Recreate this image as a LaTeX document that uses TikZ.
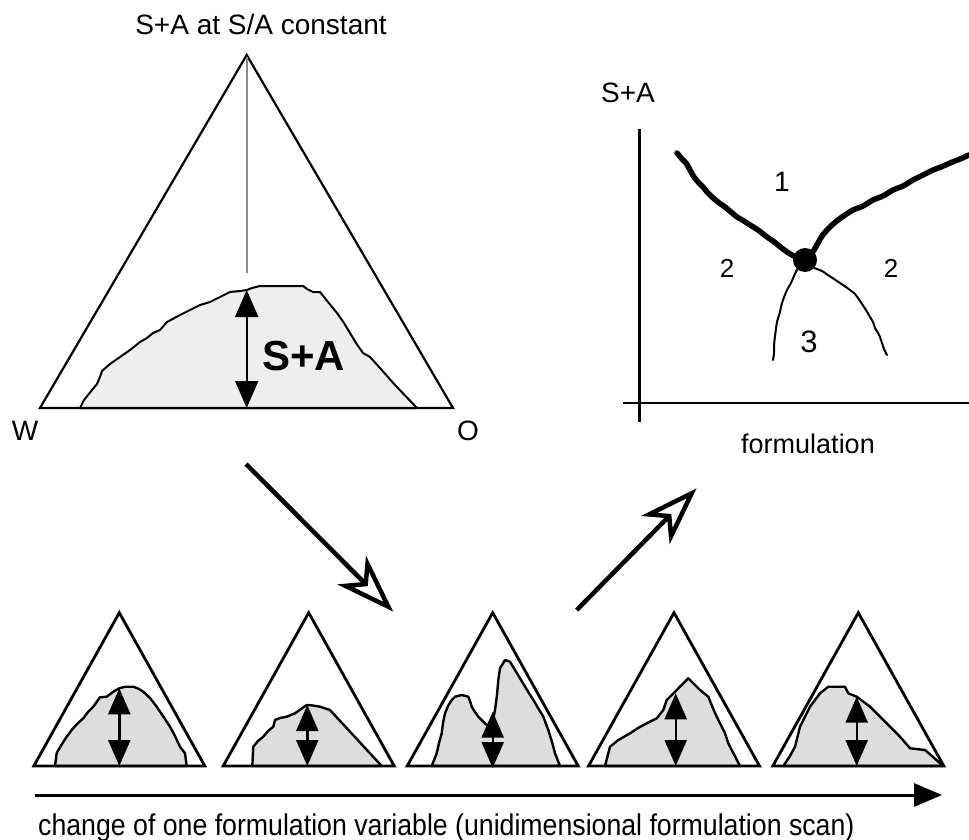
\documentclass[tikz,border=0pt]{standalone}
\usepackage{fontspec}
\setmainfont{Liberation Sans}
\usetikzlibrary{arrows.meta}
\definecolor{lobeA}{HTML}{EEEEEE}
\definecolor{lobeB}{HTML}{DDDDDD}
\definecolor{guide}{HTML}{8C8C8C}
\newcommand\myfs[1]{\fontsize{#1}{#1}\selectfont}
\begin{document}
\begin{tikzpicture}[x=1pt,y=-1pt,
  tri/.style={draw=black, line width=2.2pt, line join=miter},
  smalltri/.style={draw=black, line width=2.8pt, line join=miter},
  lobebig/.style={fill=lobeA, draw=black, line width=2pt, line join=round},
  lobesmall/.style={fill=lobeB, draw=black, line width=2.4pt, line join=round},
  dblbig/.style={line width=2pt, {Triangle[length=27pt,width=23pt]}-{Triangle[length=27pt,width=23pt]}},
  dblsmall/.style={line width=2.4pt, {Triangle[length=26pt,width=22pt]}-{Triangle[length=26pt,width=22pt]}},
  bigarrow/.style={line width=4.5pt},
  openhead/.style={fill=white, draw=black, line width=4.5pt, line join=miter},
  txt/.style={inner sep=0pt, anchor=base},
  thickcurve/.style={line width=5.5pt, line cap=round, line join=round},
  thincurve/.style={line width=2pt, line cap=round, line join=round},
  axisline/.style={line width=2.5pt}
]
\useasboundingbox (0,0) rectangle (969,840);

% ---------- big ternary diagram ----------
\path[lobebig] (80,408) -- (84,400) -- (92,390) -- (97,384) -- (100,377) -- (102,371) -- (110,364) -- (120,357) -- (130,350) -- (140,342) -- (147,338) -- (153,333) -- (160,330) -- (167,322) -- (180,315) -- (190,310) -- (200,305) -- (210,302) -- (220,297) -- (230,292) -- (240,291) -- (247,290) -- (252,288) -- (260,286) -- (303,286) -- (307,289) -- (313,292) -- (320,292) -- (328,302) -- (337,313) -- (344,323) -- (350,333) -- (356,343) -- (363,353) -- (370,357) -- (380,368) -- (395,385) -- (417,408) -- cycle;
\draw[tri] (40,408) -- (246.7,55) -- (453,408) -- cycle;
\draw[guide, line width=1.8pt] (246.7,57) -- (246.7,273);
\draw[dblbig] (246.7,290) -- (246.7,408);
\node[txt] (title) at (261,35) {\myfs{28}S+A at S/A constant};
\node[txt] (W) at (25,440) {\myfs{28}W};
\node[txt] (O) at (468,440) {\myfs{28}O};
\node[txt, anchor=base west] (sa) at (262,370) {\myfs{42}\bfseries S+A};

% ---------- phase map ----------
\draw[axisline] (639.3,129) -- (639.3,422);
\draw[axisline] (623,403) -- (969,403);
\node[txt, anchor=base west] (ylab) at (601,103) {\myfs{28}S+A};
\node[txt] (xlab) at (808,453) {\myfs{27}formulation};
\draw[thickcurve] plot[smooth, tension=0.5] coordinates {(677,153) (682,159) (686,163) (690,170) (694,177) (699,183) (704,188) (707,192) (712,197) (718,202) (725,207) (731,212) (737,217) (744,221) (750,225) (758,230) (767,237) (773,241) (778,245) (783,249) (787,252) (794,256) (800,258) (805,260)};
\draw[thickcurve] plot[smooth, tension=0.5] coordinates {(805,260) (810,255) (814,250) (818,243) (822,236) (827,230) (832,225) (838,220) (845,215) (853,210) (863,206) (873,200) (883,196) (893,190) (903,186) (913,180) (923,175) (933,170) (941,167) (950,163) (960,159) (969,155)};
\draw[thincurve] plot[smooth, tension=0.5] coordinates {(798,268) (794,276) (791,283) (787,290) (783,300) (781,307) (780,312) (777,322) (776,329) (775,336) (774,346) (774,353) (773,360)};
\draw[thincurve] plot[smooth, tension=0.5] coordinates {(814,268) (822,271) (828,275) (834,279) (840,283) (846,287) (850,290) (855,294) (858,298) (862,304) (866,310) (870,317) (873,322) (875,328) (878,333) (880,337) (882,343) (884,349) (887,355)};
\fill (805,260) circle[radius=12pt];
\node[txt] (r1) at (782,191.7) {\myfs{28}1};
\node[txt] (r2a) at (727,277) {\myfs{26}2};
\node[txt] (r2b) at (891,277) {\myfs{26}2};
\node[txt] (r3) at (809,352.7) {\myfs{31}3};

% ---------- bottom scan ----------
\path[lobesmall] (55,766) -- (56.7,753) -- (62,744) -- (66.7,736.7) -- (71.7,730) -- (77,724) -- (83.3,718.3) -- (88,712) -- (93.3,706.7) -- (100,697.3) -- (106.7,696.7) -- (113.3,691.7) -- (119.3,688.3) -- (125,686.7) -- (133.3,686.7) -- (138,688.5) -- (143.3,691.7) -- (150,698) -- (156.7,706.7) -- (163,716) -- (170,726.7) -- (175,736) -- (180,746.7) -- (185,753.3) -- (186.7,766) -- cycle;
\path[lobesmall] (252.3,766) -- (253.3,746.7) -- (258,741) -- (263.3,736.7) -- (268,731) -- (273.3,726.7) -- (275,720) -- (280,718) -- (286.7,716.7) -- (295,713.3) -- (301,709) -- (306.7,705) -- (313,705.5) -- (320,706.7) -- (330,710) -- (381.7,766) -- cycle;
\path[lobesmall] (431.7,766) -- (436.7,753.3) -- (439,743) -- (441.7,733.3) -- (443,723) -- (445,713.3) -- (448,706) -- (451.7,700) -- (455,696.7) -- (461.7,695) -- (468.3,696.7) -- (470,701) -- (471.7,706.7) -- (475,712) -- (478.3,716.7) -- (486.7,725) -- (491.7,726.7) -- (495,710) -- (497,695) -- (498.3,680) -- (500,668.3) -- (505,660) -- (510,661.7) -- (515,670) -- (524,685) -- (533.3,700) -- (543.3,716.7) -- (548.3,730) -- (552,742) -- (555,753.3) -- (560,766) -- cycle;
\path[lobesmall] (605,766) -- (610,746.7) -- (618.3,740) -- (630,733.3) -- (638,728) -- (646.7,723.3) -- (656.7,718.3) -- (663.3,710) -- (666.7,700) -- (676.7,690) -- (688.3,678.3) -- (694,684) -- (700,690) -- (708.3,696.7) -- (712,706) -- (716.7,716.7) -- (725,733.3) -- (728.3,743.3) -- (740,766) -- cycle;
\path[lobesmall] (783.3,766) -- (790,756) -- (795,746.7) -- (800,726.7) -- (810,706.7) -- (820,693.3) -- (828.3,686.7) -- (845,686.7) -- (848.3,693.3) -- (856.7,696.7) -- (870,706.7) -- (900,736.7) -- (910,748.3) -- (925,750) -- (943.3,766) -- cycle;
\foreach \ax in {119.3,308.7,492.7,674,858.3}{
  \draw[smalltri] (\ax-85.5,766) -- (\ax,612.7) -- (\ax+85.5,766) -- cycle;
}
\draw[dblsmall] (119.3,688.3) -- (119.3,766);
\draw[dblsmall] (307.3,705) -- (307.3,766);
\draw[dblsmall] (492.7,711.7) -- (492.7,768);
\draw[dblsmall] (675.7,693.3) -- (675.7,766);
\draw[dblsmall] (856.7,696.7) -- (856.7,766);

% ---------- open arrows ----------
\coordinate (a1s) at (246,464);
\coordinate (a1n) at (365.7,584.1);
\draw[bigarrow] (a1s) -- (a1n);
\draw[openhead] (388.3,606.7) -- (345.5,585.9) -- (a1n) -- (367.5,563.9) -- cycle;
\coordinate (a2s) at (576.7,610);
\coordinate (a2n) at (669.2,516.1);
\draw[bigarrow] (a2s) -- (a2n);
\draw[openhead] (691.7,493.3) -- (671.1,536.2) -- (a2n) -- (649.1,514.4) -- cycle;

% ---------- scan axis ----------
\coordinate (scanA) at (35,795);
\coordinate (scanB) at (942,795);
\draw[line width=3pt, -{Triangle[length=28pt,width=23pt]}] (scanA) -- (scanB);
\node[txt, anchor=base west] (scantxt) at (38,835) {\myfs{30}\scalebox{0.89}[1]{change of one formulation variable (unidimensional formulation scan)}};
\end{tikzpicture}
\end{document}
